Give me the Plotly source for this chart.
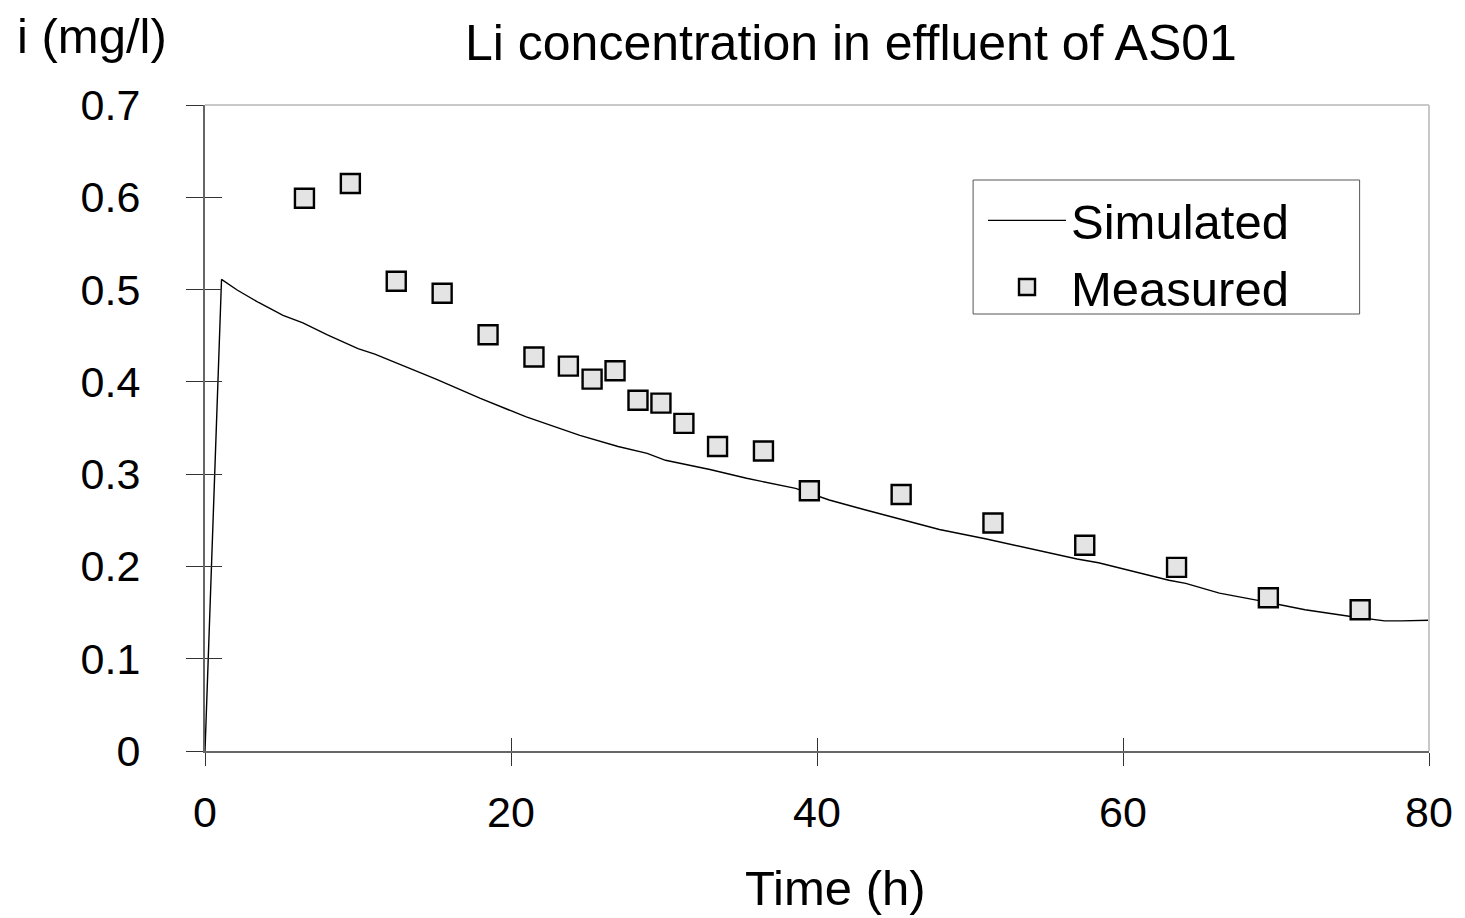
import plotly.graph_objects as go

sim_time = [0, 1.08, 2.1, 3.5, 5.1, 6.4, 8, 10, 11.1, 13, 15.1, 18, 21, 24.5, 27, 28.9, 30.1, 33,
            35.4, 38.6, 40.8, 43, 45, 48, 51, 54, 57, 58.4, 61, 63, 64.1, 66.3, 68.9, 71.9, 75,
            77.1, 78.2, 80]
sim_conc = [0, 0.511, 0.4995, 0.486, 0.472, 0.464, 0.451, 0.436, 0.430, 0.417, 0.403, 0.382,
            0.362, 0.342, 0.330, 0.3225, 0.315, 0.305, 0.2955, 0.2846, 0.272, 0.262, 0.253,
            0.240, 0.230, 0.219, 0.208, 0.204, 0.193, 0.185, 0.1817, 0.171, 0.163, 0.153,
            0.1455, 0.141, 0.141, 0.1416]

meas_time = [6.5, 9.5, 12.5, 15.5, 18.5, 21.5, 23.75, 25.3, 26.8, 28.3, 29.8, 31.3, 33.5, 36.5,
             39.5, 45.5, 51.5, 57.5, 63.5, 69.5, 75.5]
meas_conc = [0.599, 0.615, 0.509, 0.496, 0.451, 0.427, 0.417, 0.403, 0.412, 0.380, 0.377, 0.355,
             0.330, 0.325, 0.282, 0.278, 0.247, 0.223, 0.199, 0.166, 0.153]

x_ticks = [0, 20, 40, 60, 80]
y_ticks = [0, 0.1, 0.2, 0.3, 0.4, 0.5, 0.6, 0.7]
y_tick_text = ["0", "0.1", "0.2", "0.3", "0.4", "0.5", "0.6", "0.7"]

FONT = "Liberation Sans, Arial, sans-serif"
TICK_FS = 43
TEXT_FS = 49

fig = go.Figure()
fig.add_trace(go.Scatter(x=sim_time, y=sim_conc, mode="lines", name="Simulated",
                         line=dict(color="black", width=1.4)))
fig.add_trace(go.Scatter(x=meas_time, y=meas_conc, mode="markers", name="Measured",
                         marker=dict(symbol="square", size=19, color="#e4e4e4",
                                     line=dict(color="black", width=2.4))))
# helper trace so the overlay (inside-tick) axes are drawn
fig.add_trace(go.Scatter(x=[None], y=[None], xaxis="x2", yaxis="y2", showlegend=False,
                         hoverinfo="skip"))

fig.update_layout(
    width=1465, height=918,
    margin=dict(l=205, r=25, t=105, b=167),
    plot_bgcolor="white", paper_bgcolor="white",
    font=dict(family=FONT, size=TICK_FS, color="black"),
    showlegend=True,
    legend=dict(x=(990 - 205) / 1235, y=(751 - 182) / 646, xanchor="left", yanchor="top",
                bgcolor="rgba(0,0,0,0)", borderwidth=0,
                font=dict(size=TEXT_FS), itemwidth=78, tracegroupgap=0),
    xaxis=dict(range=[0, 80], tickvals=x_ticks, ticks="outside", ticklen=13, tickwidth=1,
               tickcolor="#333", showline=True, linecolor="#666", linewidth=2,
               showgrid=False, zeroline=False, ticklabelstandoff=9,
               tickfont=dict(size=TICK_FS)),
    yaxis=dict(range=[0, 0.7], tickvals=y_ticks, ticktext=y_tick_text,
               ticks="outside", ticklen=17, tickwidth=1,
               tickcolor="#333", showline=True, linecolor="#666", linewidth=2,
               showgrid=False, zeroline=False, ticklabelstandoff=37,
               tickfont=dict(size=TICK_FS)),
    xaxis2=dict(range=[0, 80], tickvals=x_ticks, overlaying="x", anchor="y", side="bottom",
                ticks="inside", ticklen=13, tickwidth=1, tickcolor="#333",
                showticklabels=False, showgrid=False, zeroline=False, showline=False),
    yaxis2=dict(range=[0, 0.7], tickvals=y_ticks, overlaying="y", anchor="x", side="left",
                ticks="inside", ticklen=17, tickwidth=1, tickcolor="#333",
                showticklabels=False, showgrid=False, zeroline=False, showline=False),
    shapes=[
        dict(type="line", xref="paper", yref="paper", x0=0, x1=1, y0=1, y1=1,
             line=dict(color="#c8c8c8", width=2)),
        dict(type="line", xref="paper", yref="paper", x0=1, x1=1, y0=0, y1=1,
             line=dict(color="#c8c8c8", width=2)),
        dict(type="rect", xref="paper", yref="paper",
             x0=(980 - 205) / 1235, x1=(1370 - 205) / 1235,
             y0=(751 - 314) / 646, y1=(751 - 180) / 646,
             line=dict(color="#555", width=1), fillcolor="rgba(0,0,0,0)", layer="below"),
    ],
    annotations=[
        dict(text="i (mg/l)", xref="paper", yref="paper", x=(13 - 205) / 1235,
             y=(751 - 36) / 646, xanchor="left", yanchor="middle", showarrow=False,
             font=dict(size=TEXT_FS)),
        dict(text="Li concentration in effluent of AS01", xref="paper", yref="paper",
             x=(857 - 205) / 1235, y=(751 - 43) / 646, xanchor="center", yanchor="middle",
             showarrow=False, font=dict(size=50)),
        dict(text="Time (h)", xref="paper", yref="paper", x=(841 - 205) / 1235,
             y=(751 - 888) / 646, xanchor="center", yanchor="middle", showarrow=False,
             font=dict(size=TEXT_FS)),
    ],
)

fig.write_html("out.html")
